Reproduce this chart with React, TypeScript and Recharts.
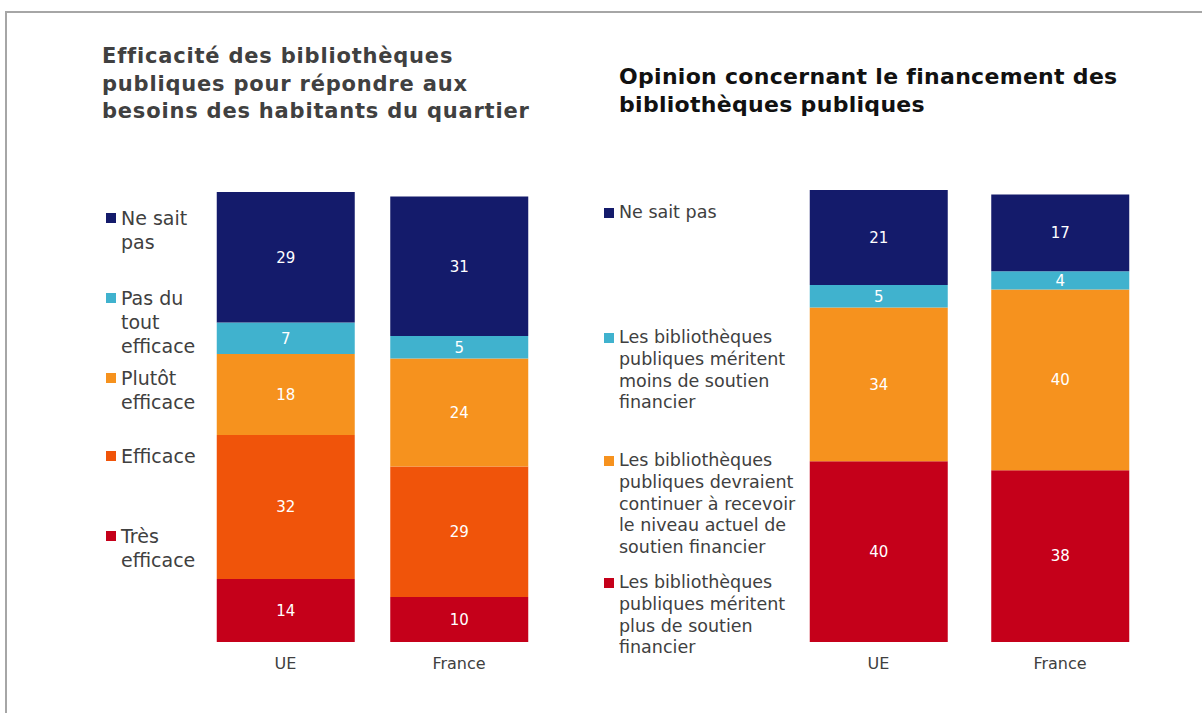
import React from "react";
import { BarChart, Bar, XAxis, YAxis, LabelList } from "recharts";

// ---------- data ----------
const categories = ["UE", "France"];

// Left chart: efficacité
const leftSeriesKeys = ["tres", "efficace", "plutot", "pasDuTout", "nsp"];
const leftSeriesNames = ["Très efficace", "Efficace", "Plutôt efficace", "Pas du tout efficace", "Ne sait pas"];
const leftTres = [14, 10];
const leftEfficace = [32, 29];
const leftPlutot = [18, 24];
const leftPasDuTout = [7, 5];
const leftNsp = [29, 31];
const leftLegendLines = [
  ["Très", "efficace"],
  ["Efficace"],
  ["Plutôt", "efficace"],
  ["Pas du", "tout", "efficace"],
  ["Ne sait", "pas"],
];

// Right chart: financement
const rightSeriesKeys = ["plus", "continuer", "moins", "nsp"];
const rightSeriesNames = [
  "Les bibliothèques publiques méritent plus de soutien financier",
  "Les bibliothèques publiques devraient continuer à recevoir le niveau actuel de soutien financier",
  "Les bibliothèques publiques méritent moins de soutien financier",
  "Ne sait pas",
];
const rightPlus = [40, 38];
const rightContinuer = [34, 40];
const rightMoins = [5, 4];
const rightNsp = [21, 17];
const rightLegendLines = [
  ["Les bibliothèques", "publiques méritent", "plus de soutien", "financier"],
  ["Les bibliothèques", "publiques devraient", "continuer à recevoir", "le niveau actuel de", "soutien financier"],
  ["Les bibliothèques", "publiques méritent", "moins de soutien", "financier"],
  ["Ne sait pas"],
];

const leftTitle = ["Efficacité des bibliothèques", "publiques pour répondre aux", "besoins des habitants du quartier"];
const rightTitle = ["Opinion concernant le financement des", "bibliothèques publiques"];

// ---------- styling ----------
const leftColors = ["#C5001A", "#F0540A", "#F6921E", "#40B2CE", "#141B6B"];
const rightColors = ["#C5001A", "#F6921E", "#40B2CE", "#141B6B"];
const FONT = '"DejaVu Sans", Verdana, sans-serif';
const TEXT = "#404040";

const leftData = categories.map((c, i) => ({
  cat: c,
  tres: leftTres[i],
  efficace: leftEfficace[i],
  plutot: leftPlutot[i],
  pasDuTout: leftPasDuTout[i],
  nsp: leftNsp[i],
}));
const rightData = categories.map((c, i) => ({
  cat: c,
  plus: rightPlus[i],
  continuer: rightContinuer[i],
  moins: rightMoins[i],
  nsp: rightNsp[i],
}));

// legend layout (first-line centre y)
const leftLegendY = [536, 456, 378, 298, 218];
const rightLegendY = [583, 461, 338, 213];

function Legend2({ lines, colors, ys, x, fontSize, lineHeight, sq }: any) {
  return (
    <>
      {lines.map((ls: string[], i: number) => (
        <div
          key={i}
          style={{
            position: "absolute",
            left: x,
            top: ys[i] - lineHeight / 2,
            fontSize,
            lineHeight: lineHeight + "px",
            color: TEXT,
            fontFamily: FONT,
            whiteSpace: "nowrap",
          }}
        >
          <div
            style={{
              position: "absolute",
              left: -sq - 5,
              top: lineHeight / 2 - sq / 2,
              width: sq,
              height: sq,
              background: colors[i],
            }}
          />
          {ls.map((l, j) => (
            <div key={j}>{l}</div>
          ))}
        </div>
      ))}
    </>
  );
}

function Title({ lines, x, y, fontSize, lineHeight, color, spacing }: any) {
  return (
    <div
      style={{
        position: "absolute",
        left: x,
        top: y,
        fontSize,
        lineHeight: lineHeight + "px",
        fontWeight: "bold",
        color,
        fontFamily: FONT,
        whiteSpace: "nowrap",
        letterSpacing: spacing,
      }}
    >
      {lines.map((l: string, i: number) => (
        <div key={i}>{l}</div>
      ))}
    </div>
  );
}

export default function App() {
  return (
    <div
      style={{
        position: "fixed",
        left: 0,
        top: 0,
        width: 1202,
        height: 713,
        overflow: "hidden",
        background: "#fff",
        fontFamily: FONT,
      }}
    >
      <div
        style={{
          position: "absolute",
          left: 5,
          top: 11,
          width: 1400,
          height: 900,
          borderTop: "2px solid #A6A6A6",
          borderLeft: "2px solid #A6A6A6",
        }}
      />
      <Title lines={leftTitle} x={102} y={43} fontSize={21} lineHeight={27.5} color="#404040" spacing={0.8} />
      <Title lines={rightTitle} x={619} y={63} fontSize={22} lineHeight={28} color="#111111" spacing={0.3} />

      <Legend2 lines={leftLegendLines} colors={leftColors} ys={leftLegendY} x={121} fontSize={19} lineHeight={24} sq={10} />
      <Legend2 lines={rightLegendLines} colors={rightColors} ys={rightLegendY} x={619} fontSize={17.5} lineHeight={21.8} sq={10} />

      <div style={{ position: "absolute", left: 150, top: 150 }}>
        <BarChart
          width={450}
          height={550}
          data={leftData}
          margin={{ top: 42, right: 54.25, bottom: 28, left: 48.75 }}
        >
          <XAxis
            dataKey="cat"
            axisLine={false}
            tickLine={false}
            height={30}
            tickMargin={10}
            interval={0}
            tick={{ fill: TEXT, fontSize: 16, fontFamily: FONT }}
          />
          <YAxis hide domain={[0, 100]} />
          {leftSeriesKeys.map((k, i) => (
            <Bar key={k} dataKey={k} name={leftSeriesNames[i]} stackId="a" fill={leftColors[i]} barSize={138} isAnimationActive={false}>
              <LabelList dataKey={k} position="center" fill="#ffffff" fontSize={15} fontFamily={FONT} />
            </Bar>
          ))}
        </BarChart>
      </div>

      <div style={{ position: "absolute", left: 740, top: 150 }}>
        <BarChart
          width={460}
          height={550}
          data={rightData}
          margin={{ top: 40, right: 49.25, bottom: 28, left: 47.75 }}
        >
          <XAxis
            dataKey="cat"
            axisLine={false}
            tickLine={false}
            height={30}
            tickMargin={10}
            interval={0}
            tick={{ fill: TEXT, fontSize: 16, fontFamily: FONT }}
          />
          <YAxis hide domain={[0, 100]} />
          {rightSeriesKeys.map((k, i) => (
            <Bar key={k} dataKey={k} name={rightSeriesNames[i]} stackId="a" fill={rightColors[i]} barSize={138} isAnimationActive={false}>
              <LabelList dataKey={k} position="center" fill="#ffffff" fontSize={15} fontFamily={FONT} />
            </Bar>
          ))}
        </BarChart>
      </div>
    </div>
  );
}
